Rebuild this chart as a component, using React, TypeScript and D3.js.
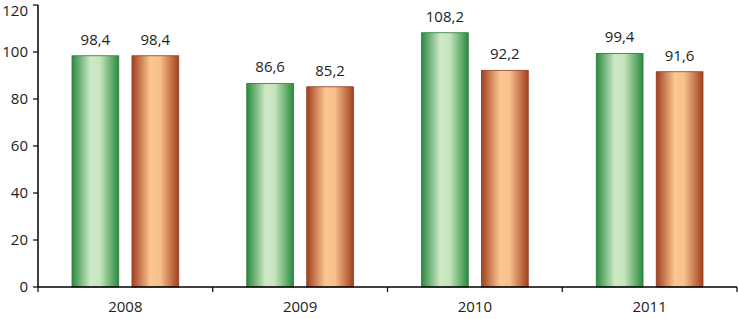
import React from 'react';
import * as d3 from 'd3';

const years = ['2008', '2009', '2010', '2011'];
const seriesA = [98.4, 86.6, 108.2, 99.4];
const seriesB = [98.4, 85.2, 92.2, 91.6];
const yTicks = [0, 20, 40, 60, 80, 100, 120];

const W = 739, H = 319;
const margin = { top: 5, right: 2, bottom: 32, left: 38 };

export default function App() {
  const innerW = W - margin.left - margin.right;
  const innerH = H - margin.top - margin.bottom;

  const x = d3.scaleBand().domain(years).range([0, innerW]).paddingInner(0).paddingOuter(0);
  const sub = d3.scaleBand().domain(['a', 'b']).range([34, x.bandwidth() - 34]).paddingInner(0.22);
  const y = d3.scaleLinear().domain([0, 120]).range([innerH, 0]);

  const fmt = (v: number) => v.toFixed(1).replace('.', ',');
  const font = '"Open Sans", "Liberation Sans", sans-serif';

  const series = [
    { key: 'a', vals: seriesA, grad: 'gGreen', stroke: '#2c7a3a' },
    { key: 'b', vals: seriesB, grad: 'gOrange', stroke: '#8e3a1e' },
  ];

  return (
    <svg width={W} height={H} style={{ position: 'absolute', left: 0, top: 0, background: '#fff' }}>
      <defs>
        <linearGradient id="gGreen" x1="0" x2="1" y1="0" y2="0">
          <stop offset="0" stopColor="#2a8a3e" />
          <stop offset="0.4" stopColor="#cfe9c8" />
          <stop offset="0.6" stopColor="#c6e5bd" />
          <stop offset="1" stopColor="#2a8a3e" />
        </linearGradient>
        <linearGradient id="gOrange" x1="0" x2="1" y1="0" y2="0">
          <stop offset="0" stopColor="#a2401f" />
          <stop offset="0.4" stopColor="#fcc792" />
          <stop offset="0.6" stopColor="#f8c08b" />
          <stop offset="1" stopColor="#a2401f" />
        </linearGradient>
      </defs>
      <g transform={`translate(${margin.left},${margin.top})`}>
        {series.map(s =>
          years.map((yr, i) => {
            const bx = (x(yr) ?? 0) + (sub(s.key) ?? 0);
            const bw = sub.bandwidth();
            const v = s.vals[i];
            return (
              <g key={s.key + yr}>
                <rect x={bx} y={y(v)} width={bw} height={innerH - y(v)} fill={`url(#${s.grad})`} stroke={s.stroke} strokeWidth={0.8} />
                <text x={bx + bw / 2} y={y(v) - 11} textAnchor="middle" fontFamily={font} fontSize={15} fill="#222">{fmt(v)}</text>
              </g>
            );
          })
        )}
        {/* y axis */}
        <line x1={0} x2={0} y1={0} y2={innerH} stroke="#000" strokeWidth={1.5} />
        {yTicks.map(t => (
          <g key={t} transform={`translate(0,${y(t)})`}>
            <line x1={-5} x2={0} stroke="#000" strokeWidth={1.2} />
            <text x={-10} y={t === 120 ? 6 : 0} dy="0.35em" textAnchor="end" fontFamily={font} fontSize={15} fill="#222">{t}</text>
          </g>
        ))}
        {/* x axis */}
        <line x1={0} x2={innerW} y1={innerH} y2={innerH} stroke="#000" strokeWidth={1.5} />
        {[...years.map(yr => x(yr) ?? 0), innerW].map((px, i) => (
          <line key={i} x1={px} x2={px} y1={innerH} y2={innerH + 5} stroke="#000" strokeWidth={1.2} />
        ))}
        {years.map(yr => (
          <text key={yr} x={(x(yr) ?? 0) + x.bandwidth() / 2} y={innerH + 25} textAnchor="middle" fontFamily={font} fontSize={15} fill="#222">{yr}</text>
        ))}
      </g>
    </svg>
  );
}
